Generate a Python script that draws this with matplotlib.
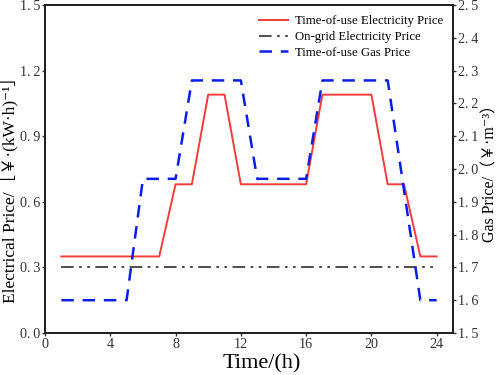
import matplotlib
matplotlib.use("Agg")
import matplotlib.pyplot as plt
from matplotlib.ticker import FuncFormatter

plt.rcParams['font.family'] = ['Liberation Serif', 'Noto Sans CJK SC', 'DejaVu Serif']

hours = list(range(1, 25))
elec_price = [0.35, 0.35, 0.35, 0.35, 0.35, 0.35, 0.35, 0.68, 0.68, 1.09, 1.09, 0.68,
              0.68, 0.68, 0.68, 0.68, 1.09, 1.09, 1.09, 1.09, 0.68, 0.68, 0.35, 0.35]
grid_price = [0.30] * 24
gas_hours = [1, 2, 3, 4, 5, 6, 7, 8, 9, 10, 11, 12, 13, 14, 15, 16, 17, 18, 19, 20, 21, 23, 24]
gas_price = [1.60, 1.60, 1.60, 1.60, 1.60, 1.97, 1.97, 1.97, 2.27, 2.27, 2.27, 2.27,
             1.97, 1.97, 1.97, 1.97, 2.27, 2.27, 2.27, 2.27, 2.27, 1.60, 1.60]

left_ticks = [0.0, 0.3, 0.6, 0.9, 1.2, 1.5]
right_ticks = [1.5, 1.6, 1.7, 1.8, 1.9, 2.0, 2.1, 2.2, 2.3, 2.4, 2.5]
x_ticks = [0, 4, 8, 12, 16, 20, 24]

fig = plt.figure(figsize=(4.98, 3.75), dpi=100)
ax = fig.add_axes([0.0904, 0.112, 0.8192, 0.8747])
ax2 = ax.twinx()

fmt = FuncFormatter(lambda v, p: ("%.1f" % v).replace(".", ".\u2009"))

l1, = ax.plot(hours, elec_price, color='#f03c3c', lw=1.4, label='Time-of-use Electricity Price')
l2, = ax.plot(hours, grid_price, color='#404040', lw=1.3, dashes=(7, 3, 1.5, 3, 1.5, 3),
              label='On-grid Electricity Price')
l3, = ax2.plot(gas_hours, gas_price, color='#0a1ee6', lw=1.8, dashes=(5, 3.5),
               label='Time-of-use Gas Price')

ax.set_xlim(0, 25)
ax.set_ylim(0, 1.5)
ax2.set_ylim(1.5, 2.5)
ax.set_xticks(x_ticks)
ax.set_yticks(left_ticks)
ax2.set_yticks(right_ticks)
ax.yaxis.set_major_formatter(fmt)
ax2.yaxis.set_major_formatter(fmt)

for a in (ax, ax2):
    a.tick_params(direction='out', length=2.5, width=1, labelsize=10.2, colors='#333333',
                  labelcolor='#333333', pad=1.0)
    for s in a.spines.values():
        s.set_linewidth(1.4)
        s.set_color('#222222')

ax.set_xlabel('Time/(h)', fontsize=16)
ax.xaxis.set_label_coords(0.532, -0.065)
ax.set_ylabel('Electrical Price/［￥·(kW·h)⁻¹］', fontsize=12.5)
ax.yaxis.set_label_coords(-0.066, 0.45)
ax2.set_ylabel('Gas Price/（￥·m⁻³）', fontsize=11.5)
ax2.yaxis.set_label_coords(1.073, 0.5)

ax.legend(handles=[l1, l2, l3], loc='upper right', frameon=False, fontsize=9.2,
          handlelength=2.3, handletextpad=0.5, labelspacing=0.3, borderaxespad=0.4)

fig.savefig('out.png', dpi=100)
